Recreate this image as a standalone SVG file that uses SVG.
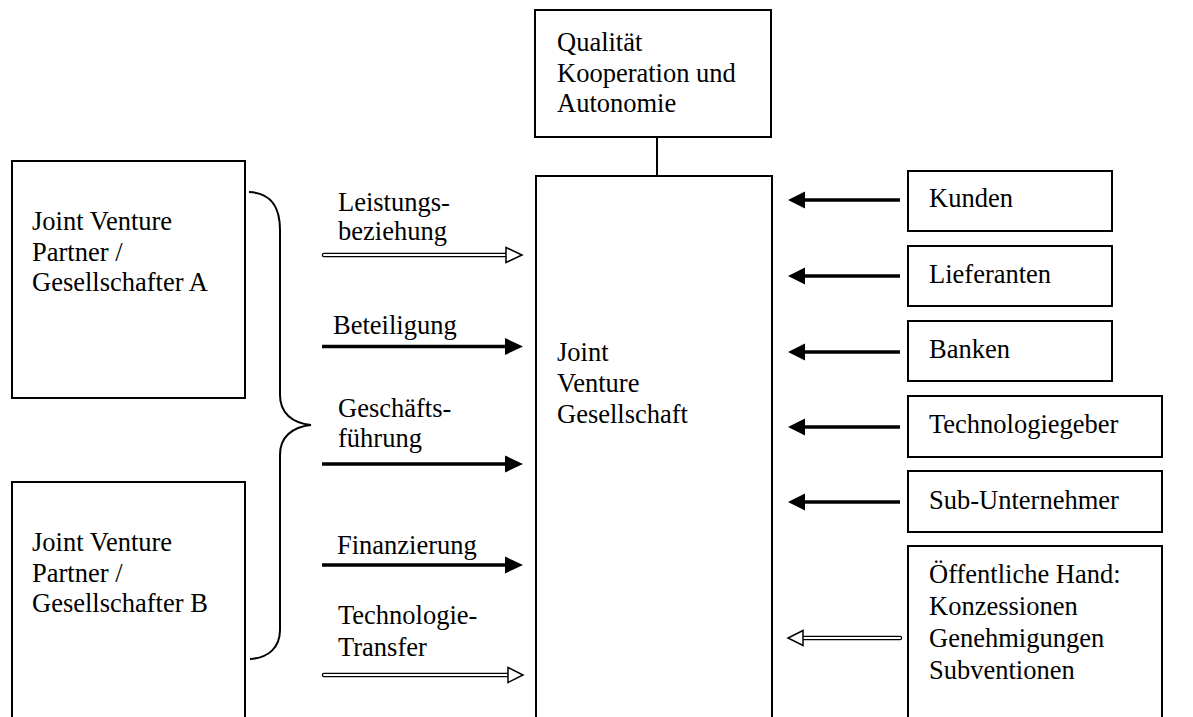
<svg xmlns="http://www.w3.org/2000/svg" width="1193" height="717" viewBox="0 0 1193 717">
<style>
  .box { fill: #fff; stroke: #000; stroke-width: 2; }
  .t { font-family: "Liberation Serif", "Times New Roman", serif; font-size: 26.5px; fill: #000; }
  .solid { stroke: #000; stroke-width: 3.5; fill: none; }
  .dblO { stroke: #000; stroke-width: 4.5; fill: none; stroke-linecap: round; }
  .dblI { stroke: #fff; stroke-width: 2; fill: none; stroke-linecap: round; }
  .hhead { fill: #fff; stroke: #000; stroke-width: 1.5; stroke-linejoin: miter; }
  .shead { fill: #000; stroke: none; }
  .brace { fill: none; stroke: #000; stroke-width: 2; }
</style>
<rect width="1193" height="717" fill="#fff"/>

<g id="connectors">
  <line x1="657" y1="137" x2="657" y2="176" stroke="#000" stroke-width="2"/>
  <path class="brace" d="M249,192 C270,193 280,205 280,230 L280,395 C280,413 292,423 311,425 C292,427 280,437 280,455 L280,630 C280,648 268,658 250,659"/>

  <!-- left arrows -->
  <line class="dblO" x1="324" y1="255" x2="508" y2="255"/>
  <line class="dblI" x1="324" y1="255" x2="508" y2="255"/>
  <polygon class="hhead" points="506,247.5 522,255 506,262.5"/>

  <line class="solid" x1="322" y1="346.5" x2="508" y2="346.5"/>
  <polygon class="shead" points="505,338 523,346.5 505,355"/>

  <line class="solid" x1="322" y1="464" x2="508" y2="464"/>
  <polygon class="shead" points="505,455.5 523,464 505,472.5"/>

  <line class="solid" x1="322" y1="565" x2="508" y2="565"/>
  <polygon class="shead" points="505,556.5 523,565 505,573.5"/>

  <line class="dblO" x1="324" y1="675" x2="510" y2="675"/>
  <line class="dblI" x1="324" y1="675" x2="510" y2="675"/>
  <polygon class="hhead" points="508,667.5 523,675 508,682.5"/>

  <!-- right arrows -->
  <line class="solid" x1="900" y1="200" x2="802" y2="200"/>
  <polygon class="shead" points="805,191.5 788,200 805,208.5"/>
  <line class="solid" x1="900" y1="276" x2="802" y2="276"/>
  <polygon class="shead" points="805,267.5 788,276 805,284.5"/>
  <line class="solid" x1="900" y1="352" x2="802" y2="352"/>
  <polygon class="shead" points="805,343.5 788,352 805,360.5"/>
  <line class="solid" x1="900" y1="427" x2="802" y2="427"/>
  <polygon class="shead" points="805,418.5 788,427 805,435.5"/>
  <line class="solid" x1="900" y1="502" x2="802" y2="502"/>
  <polygon class="shead" points="805,493.5 788,502 805,510.5"/>

  <line class="dblO" x1="900" y1="638" x2="801" y2="638"/>
  <line class="dblI" x1="900" y1="638" x2="801" y2="638"/>
  <polygon class="hhead" points="803,630.5 788,638 803,645.5"/>
</g>

<g id="labels">
  <text class="t" x="338" y="211">Leistungs-</text>
  <text class="t" x="338" y="240">beziehung</text>
  <text class="t" x="333" y="334">Beteiligung</text>
  <text class="t" x="338" y="417">Geschäfts-</text>
  <text class="t" x="338" y="447">führung</text>
  <text class="t" x="337" y="554">Finanzierung</text>
  <text class="t" x="338" y="624">Technologie-</text>
  <text class="t" x="338" y="656">Transfer</text>
</g>

<g id="qualitaet">
  <rect class="box" x="535" y="10" width="236" height="127"/>
  <text class="t" x="557" y="51">Qualität</text>
  <text class="t" x="557" y="81.5">Kooperation und</text>
  <text class="t" x="557" y="112">Autonomie</text>
</g>

<g id="jv-gesellschaft">
  <rect class="box" x="536" y="176" width="236" height="560"/>
  <text class="t" x="557" y="361">Joint</text>
  <text class="t" x="557" y="392">Venture</text>
  <text class="t" x="557" y="423">Gesellschaft</text>
</g>

<g id="partner-a">
  <rect class="box" x="12" y="161" width="233" height="237"/>
  <text class="t" x="32" y="230">Joint Venture</text>
  <text class="t" x="32" y="260.5">Partner /</text>
  <text class="t" x="32" y="291">Gesellschafter A</text>
</g>

<g id="partner-b">
  <rect class="box" x="12" y="482" width="233" height="260"/>
  <text class="t" x="32" y="551">Joint Venture</text>
  <text class="t" x="32" y="581.5">Partner /</text>
  <text class="t" x="32" y="612">Gesellschafter B</text>
</g>

<g id="kunden">
  <rect class="box" x="908" y="171" width="204" height="60"/>
  <text class="t" x="929" y="207">Kunden</text>
</g>
<g id="lieferanten">
  <rect class="box" x="908" y="246" width="204" height="60"/>
  <text class="t" x="929" y="283">Lieferanten</text>
</g>
<g id="banken">
  <rect class="box" x="908" y="321" width="204" height="60"/>
  <text class="t" x="929" y="358">Banken</text>
</g>
<g id="technologiegeber">
  <rect class="box" x="908" y="396" width="254" height="61"/>
  <text class="t" x="929" y="433">Technologiegeber</text>
</g>
<g id="sub-unternehmer">
  <rect class="box" x="908" y="471" width="254" height="61"/>
  <text class="t" x="929" y="509">Sub-Unternehmer</text>
</g>
<g id="oeffentliche-hand">
  <rect class="box" x="908" y="546" width="254" height="200"/>
  <text class="t" x="929" y="583">Öffentliche Hand:</text>
  <text class="t" x="929" y="615">Konzessionen</text>
  <text class="t" x="929" y="647">Genehmigungen</text>
  <text class="t" x="929" y="679">Subventionen</text>
</g>
</svg>
